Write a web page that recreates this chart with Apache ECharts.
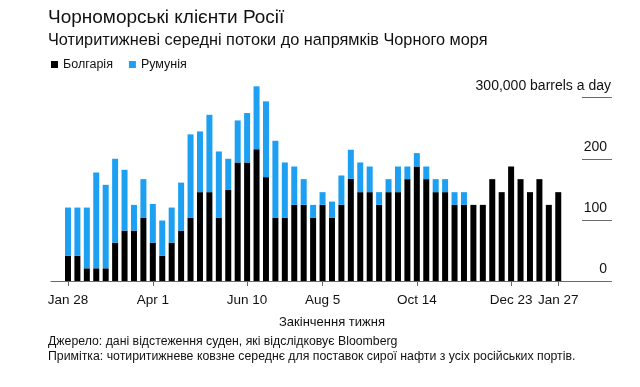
<!DOCTYPE html>
<html>
<head>
<meta charset="utf-8">
<script src="https://cdn.jsdelivr.net/npm/echarts@6/dist/echarts.min.js"></script>
<style>
html,body{margin:0;padding:0;background:#fff;}
#c{width:640px;height:387px;}
</style>
</head>
<body>
<div id="c"></div>
<script>
// Week-ending dates (categories)
const weekEnding = [
  '2018-01-28','2018-02-04','2018-02-11','2018-02-18','2018-02-25','2018-03-04','2018-03-11','2018-03-18','2018-03-25',
  '2018-04-01','2018-04-08','2018-04-15','2018-04-22','2018-04-29','2018-05-06','2018-05-13','2018-05-20','2018-05-27',
  '2018-06-03','2018-06-10','2018-06-17','2018-06-24','2018-07-01','2018-07-08','2018-07-15','2018-07-22','2018-07-29',
  '2018-08-05','2018-08-12','2018-08-19','2018-08-26','2018-09-02','2018-09-09','2018-09-16','2018-09-23','2018-09-30',
  '2018-10-07','2018-10-14','2018-10-21','2018-10-28','2018-11-04','2018-11-11','2018-11-18','2018-11-25','2018-12-02',
  '2018-12-09','2018-12-16','2018-12-23','2018-12-30','2019-01-06','2019-01-13','2019-01-20','2019-01-27'
];
// Thousand barrels a day
const bulgaria = [41.5,41.5,20.8,20.8,20.8,62.8,82.5,82.5,103.8,62.8,41.5,62.8,82.5,103.8,145.4,145.4,103.8,149,194,194,
  215.8,170,103.8,103.8,124.6,124.6,103.8,124.6,103.8,124.6,167.2,145.4,145.4,124.6,145.4,145.4,166.7,187.4,166.7,145.4,
  145.4,124.6,124.6,124.6,124.6,166.7,145.4,187.4,166.7,145.4,166.7,124.6,145.4];
const romania = [78.7,78.7,99.4,156.8,136.6,137.2,99.5,42.1,62.9,63.2,57.5,57.4,78.5,136.2,99.4,126.6,108.2,51,68.8,80.9,
  102.8,124,125.7,90.2,62.8,42.1,20.8,20.8,26.2,48.1,47.6,48.6,42,20.8,21.3,42,20.7,21.9,20.7,21.3,
  21.3,20.8,20.8,0,0,0,0,0,0,0,0,0,0];
const tickWeeks = ['2018-01-28','2018-04-01','2018-06-10','2018-08-05','2018-10-14','2018-12-23','2019-01-27'];
const tickLabels = ['Jan 28','Apr 1','Jun 10','Aug 5','Oct 14','Dec 23','Jan 27'];
const yTopLabel = '300,000 barrels a day';

const FONT = "'Liberation Sans', Arial, Helvetica, sans-serif";
const GRID_TOP = 97.7, GRID_BOTTOM = 106;
const tickIdx = tickWeeks.map(d => weekEnding.indexOf(d));
const labelMap = {};
tickIdx.forEach((i, k) => { labelMap[i] = tickLabels[k]; });

const chart = echarts.init(document.getElementById('c'), null, {renderer: 'canvas'});
chart.setOption({
  animation: false,
  backgroundColor: '#fff',
  textStyle: {fontFamily: FONT},
  title: [
    {text: 'Чорноморські клієнти Росії', left: 43, top: 3,
     textStyle: {fontFamily: FONT, fontSize: 19, fontWeight: 'normal', color: '#111'}},
    {text: 'Чотиритижневі середні потоки до напрямків Чорного моря', left: 43, top: 28,
     textStyle: {fontFamily: FONT, fontSize: 16.3, fontWeight: 'normal', color: '#111'}},
    {text: 'Джерело: дані відстеження суден, які відслідковує Bloomberg\nПримітка: чотиритижневе ковзне середнє для поставок сирої нафти з усіх російських портів.',
     left: 43, top: 329,
     textStyle: {fontFamily: FONT, fontSize: 12.3, fontWeight: 'normal', color: '#111', lineHeight: 15}}
  ],
  legend: {
    left: 46, top: 53, itemWidth: 7, itemHeight: 7, itemGap: 16, icon: 'rect',
    textStyle: {fontFamily: FONT, fontSize: 12.5, color: '#111'},
    data: ['Болгарія', 'Румунія']
  },
  grid: [
    {left: 51, right: 33, top: GRID_TOP, bottom: GRID_BOTTOM, containLabel: false},
    {left: 582, right: 28, top: GRID_TOP, bottom: GRID_BOTTOM, containLabel: false}
  ],
  xAxis: [{
    type: 'value', gridIndex: 0,
    min: -1.8, max: 57.17,
    splitLine: {show: false},
    axisLine: {show: true, lineStyle: {color: '#6a6a6a', width: 1}},
    axisTick: {show: true, length: 5, customValues: tickIdx, lineStyle: {color: '#6a6a6a'}},
    axisLabel: {customValues: tickIdx, formatter: v => labelMap[v] || '', margin: 12,
      fontFamily: FONT, fontSize: 13.5, color: '#111'},
    name: 'Закінчення тижня', nameLocation: 'middle', nameGap: 35,
    nameTextStyle: {fontFamily: FONT, fontSize: 13, color: '#111', padding: [0, 0, 0, 6]}
  }, {
    type: 'value', gridIndex: 1, show: false, min: 0, max: 1
  }],
  yAxis: [{
    type: 'value', gridIndex: 0, show: false,
    min: 0, max: 300, interval: 100
  }, {
    type: 'value', gridIndex: 1, position: 'right',
    min: 0, max: 300, interval: 100,
    splitLine: {show: true, lineStyle: {color: '#6a6a6a', width: 1}},
    axisLine: {show: false},
    axisTick: {show: false},
    axisLabel: {inside: true, margin: 1, verticalAlign: 'bottom',
      fontFamily: FONT, fontSize: 14, color: '#111',
      formatter: v => v === 300 ? '{t|' + yTopLabel + '}' : '{n|' + v + '}',
      rich: {
        t: {fontFamily: FONT, fontSize: 14, color: '#111', padding: [0, 0, 5, 0]},
        n: {fontFamily: FONT, fontSize: 14, color: '#111', padding: [0, 4, 5, 0]}
      }}
  }],
  series: [
    {name: 'Болгарія', type: 'bar', stack: 'a', barWidth: 6, clip: false, itemStyle: {color: '#000000'},
     xAxisIndex: 0, yAxisIndex: 0, encode: {x: 1, y: 0},
     data: bulgaria.map((v, i) => [v, i])},
    {name: 'Румунія', type: 'bar', stack: 'a', barWidth: 6, clip: false, itemStyle: {color: '#1da0f2'},
     xAxisIndex: 0, yAxisIndex: 0, encode: {x: 1, y: 0},
     data: romania.map((v, i) => [v, i])}
  ]
});
</script>
</body>
</html>
